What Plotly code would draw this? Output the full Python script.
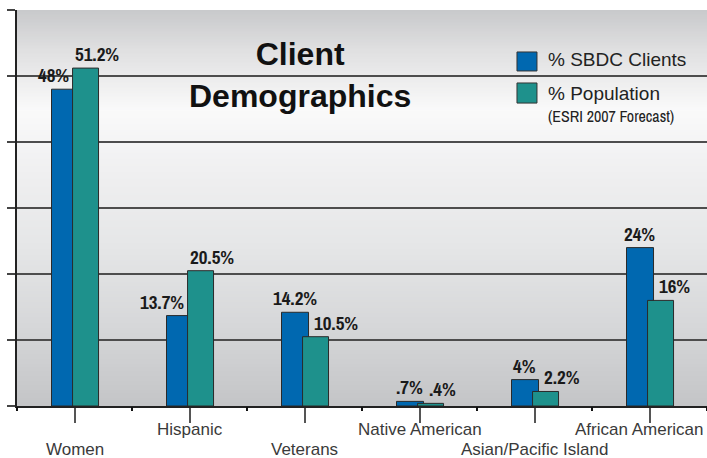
"""
Client demographics: SBDC clients vs. population share
"""

import base64
import struct
import zlib

import numpy as np
import plotly.graph_objects as go

# ---- data -------------------------------------------------------------
categories = ["Women", "Hispanic", "Veterans", "Native American",
              "Asian/Pacific Island", "African American"]
sbdc_clients = [48, 13.7, 14.2, 0.7, 4, 24]
population = [51.2, 20.5, 10.5, 0.4, 2.2, 16]
client_labels = ["48%", "13.7%", "14.2%", ".7%", "4%", "24%"]
population_labels = ["51.2%", "20.5%", "10.5%", ".4%", "2.2%", "16%"]

BLUE = "#0068B0"
TEAL = "#1E918C"
OUTLINE = "#2a2a2a"
NARROW = "Archivo Narrow, Liberation Sans Narrow, DejaVu Sans Condensed, sans-serif"
SANS = "Liberation Sans, Arial, sans-serif"


def gradient_png(stops, height=256):
    """Build a 1px wide vertical gradient as a PNG data URI."""
    pos = [s[0] for s in stops]
    rows = b""
    for i in range(height):
        t = i / (height - 1)
        rgb = [int(round(np.interp(t, pos, [s[1][k] for s in stops]))) for k in range(3)]
        rows += b"\x00" + bytes(rgb)

    def chunk(tag, data):
        return (struct.pack(">I", len(data)) + tag + data
                + struct.pack(">I", zlib.crc32(tag + data) & 0xffffffff))

    png = (b"\x89PNG\r\n\x1a\n"
           + chunk(b"IHDR", struct.pack(">IIBBBBB", 1, height, 8, 2, 0, 0, 0))
           + chunk(b"IDAT", zlib.compress(rows))
           + chunk(b"IEND", b""))
    return "data:image/png;base64," + base64.b64encode(png).decode()


background = gradient_png([
    (0.00, (201, 202, 204)),
    (0.10, (224, 224, 225)),
    (0.25, (250, 250, 250)),
    (0.40, (240, 240, 241)),
    (0.60, (229, 230, 231)),
    (0.80, (214, 215, 217)),
    (1.00, (196, 197, 199)),
])

fig = go.Figure()

fig.add_trace(go.Bar(
    x=categories, y=sbdc_clients, name="% SBDC Clients",
    marker=dict(color=BLUE, line=dict(color=OUTLINE, width=1)),
    width=0.235, offset=-0.2, showlegend=False,
))
fig.add_trace(go.Bar(
    x=categories, y=population, name="% Population",
    marker=dict(color=TEAL, line=dict(color=OUTLINE, width=1)),
    width=0.226, offset=-0.017, showlegend=False,
))
# dummy trace so the boundary-tick axis gets drawn
fig.add_trace(go.Scatter(x=[], y=[], xaxis="x2", showlegend=False, hoverinfo="skip"))

# value labels
label_font = dict(family=NARROW, size=19, color="#1a1a1a")
for cat, c, p, cl, pl in zip(categories, sbdc_clients, population,
                             client_labels, population_labels):
    pop_higher = p > c
    fig.add_annotation(
        x=cat, y=c, text=f"<b>{cl}</b>", showarrow=False, yanchor="bottom",
        xanchor="right" if pop_higher else "center",
        xshift=-4 if pop_higher else -10, yshift=-1, font=label_font,
    )
    fig.add_annotation(
        x=cat, y=p, text=f"<b>{pl}</b>", showarrow=False, yanchor="bottom",
        xanchor="left", xshift=-2 if pop_higher else 7, yshift=-1, font=label_font,
    )

# staggered category labels under the axis (last one nudged in from the edge)
for i, cat in enumerate(categories):
    fig.add_annotation(
        x=cat, xref="x", yref="paper", y=-0.111 if i % 2 == 0 else -0.0606,
        yanchor="middle", xanchor="center", text=cat, showarrow=False,
        xshift=-10 if i == len(categories) - 1 else 0,
        font=dict(family=SANS, size=17, color="#3a3a3a"),
    )

# title
fig.add_annotation(
    xref="paper", yref="paper", x=0.41, y=0.836, xanchor="center", yanchor="middle",
    text="<b>Client<br>Demographics</b>", showarrow=False,
    font=dict(family=SANS, size=32, color="#111111"),
)

# legend
for (y0, y1), color in [((0.846, 0.894), BLUE), ((0.765, 0.8157), TEAL)]:
    fig.add_shape(type="rect", xref="paper", yref="paper",
                  x0=0.7246, x1=0.7536, y0=y0, y1=y1,
                  fillcolor=color, line=dict(color="#333333", width=1))
fig.add_annotation(xref="paper", yref="paper", x=0.766, y=0.874, xanchor="left",
                   yanchor="middle", text="% SBDC Clients", showarrow=False,
                   font=dict(family=SANS, size=19, color="#222222"))
fig.add_annotation(xref="paper", yref="paper", x=0.766, y=0.788, xanchor="left",
                   yanchor="middle", text="% Population", showarrow=False,
                   font=dict(family=SANS, size=19, color="#222222"))
fig.add_annotation(xref="paper", yref="paper", x=0.766, y=0.732, xanchor="left",
                   yanchor="middle", text="(ESRI 2007 Forecast)", showarrow=False,
                   font=dict(family=NARROW, size=16, color="#222222"))

fig.update_layout(
    width=707, height=458,
    margin=dict(l=17, r=0, t=10, b=52),
    paper_bgcolor="white",
    plot_bgcolor="rgba(0,0,0,0)",
    barmode="overlay",
    images=[dict(source=background, xref="paper", yref="paper", x=0, y=1,
                 sizex=1, sizey=1, sizing="stretch", layer="below")],
    xaxis=dict(
        type="category", categoryarray=categories, range=[-0.5, len(categories) - 0.5],
        showticklabels=False, automargin=False,
        ticks="outside", ticklen=15, tickcolor="#555555", tickwidth=1.5,
        showline=True, linecolor="#222222", linewidth=1.5,
        showgrid=False, fixedrange=True,
    ),
    xaxis2=dict(
        overlaying="x", anchor="y", side="bottom", automargin=False,
        range=[-0.5, len(categories) - 0.5],
        tickvals=np.arange(len(categories) + 1) - 0.5,
        ticks="outside", ticklen=4, tickcolor="#111111", tickwidth=1.5,
        showticklabels=False, showgrid=False, showline=False, zeroline=False,
    ),
    yaxis=dict(
        range=[0, 60], dtick=10, showticklabels=False, automargin=False,
        ticks="outside", ticklen=8, tickcolor="#444444", tickwidth=1.5,
        showgrid=True, gridcolor="#4d4d4d", gridwidth=1.5,
        showline=True, linecolor="#222222", linewidth=1.5,
        zeroline=False, fixedrange=True,
    ),
)

# drop the default page margin so the figure sits at the window's corner
fig.write_html("out.html", config={"displayModeBar": False},
               post_script="document.body.style.margin='0';document.body.style.overflow='hidden';")
